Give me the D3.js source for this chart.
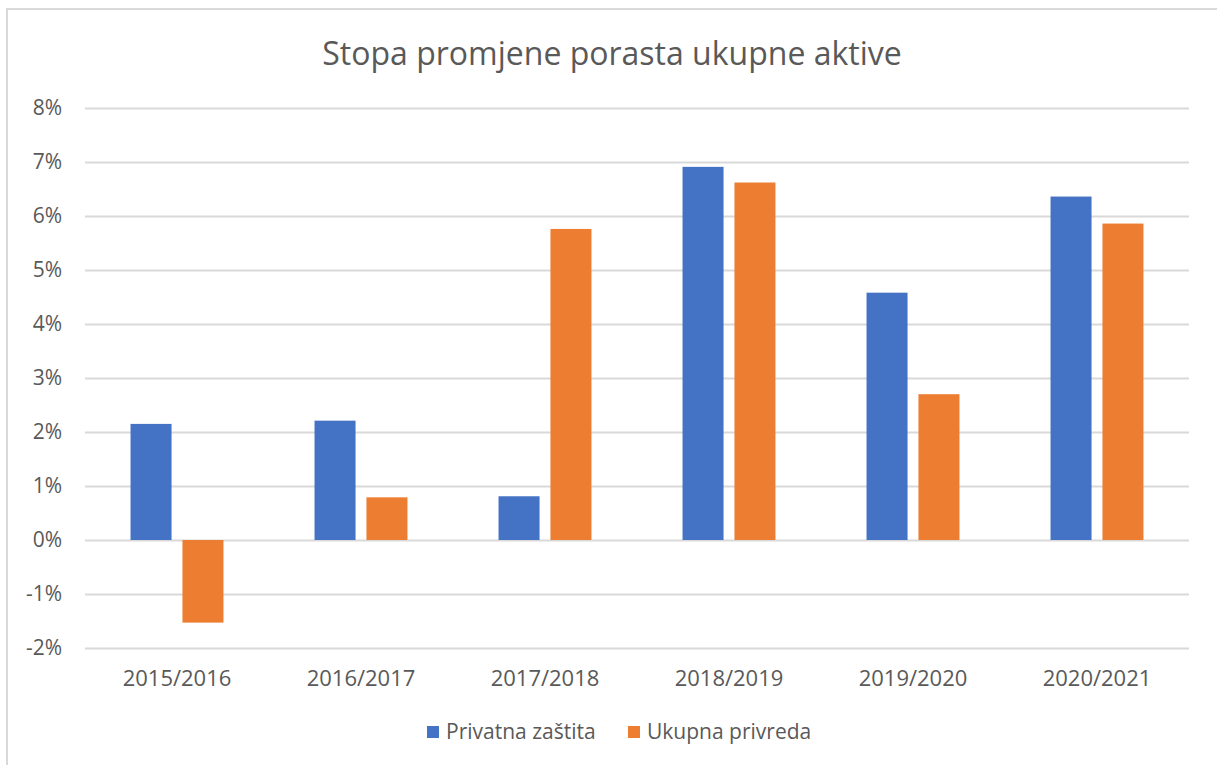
<!DOCTYPE html>
<html>
<head>
<meta charset="utf-8">
<script src="https://cdn.jsdelivr.net/npm/d3@7"></script>
<style>
  html, body { margin: 0; padding: 0; background: #fff; }
  svg text { font-family: "Open Sans", "Noto Sans", sans-serif; fill: #595959; }
</style>
</head>
<body>
<svg id="chart" width="1217" height="765"></svg>
<script>
const title = "Stopa promjene porasta ukupne aktive";
const categories = ["2015/2016", "2016/2017", "2017/2018", "2018/2019", "2019/2020", "2020/2021"];
const seriesNames = ["Privatna zaštita", "Ukupna privreda"];
const privatnaZastita = [2.15, 2.21, 0.81, 6.91, 4.58, 6.36];
const ukupnaPrivreda = [-1.53, 0.79, 5.76, 6.62, 2.70, 5.86];
const colors = ["#4472c4", "#ed7d31"];
const yTicks = [-2, -1, 0, 1, 2, 3, 4, 5, 6, 7, 8];

const seriesValues = [privatnaZastita, ukupnaPrivreda];
const svg = d3.select("#chart");

// chart border (top & left visible)
svg.append("rect").attr("x", 7).attr("y", 9).attr("width", 1240).attr("height", 800)
  .attr("fill", "none").attr("stroke", "#d9d9d9").attr("stroke-width", 2);

const plotLeft = 85, plotRight = 1189, plotTop = 108, plotBottom = 648;

const y = d3.scaleLinear().domain([-2, 8]).range([plotBottom, plotTop]);
const x0 = d3.scaleBand().domain(categories).range([plotLeft, plotRight])
  .paddingInner(0.495).paddingOuter(0.2475);
const x1 = d3.scaleBand().domain(seriesNames).range([0, x0.bandwidth()])
  .paddingInner(0.21).paddingOuter(0);

// gridlines
const yAxis = d3.axisLeft(y).tickValues(yTicks).tickSize(-(plotRight - plotLeft))
  .tickFormat(d => d + "%").tickPadding(23);
const gy = svg.append("g").attr("transform", `translate(${plotLeft},0)`).call(yAxis);
gy.select(".domain").remove();
gy.selectAll(".tick line").attr("stroke", "#d9d9d9").attr("stroke-width", 2);
gy.selectAll(".tick text").style("font-size", "21px").style("fill", "#595959");

// bars
const groups = svg.append("g").selectAll("g").data(categories).join("g")
  .attr("transform", d => `translate(${x0(d)},0)`);
groups.selectAll("rect")
  .data((c, i) => seriesNames.map((s, j) => ({ s, v: seriesValues[j][i], j })))
  .join("rect")
  .attr("x", d => x1(d.s))
  .attr("width", x1.bandwidth())
  .attr("y", d => y(Math.max(0, d.v)))
  .attr("height", d => Math.abs(y(d.v) - y(0)))
  .attr("fill", d => colors[d.j]);

// category axis
const xAxis = d3.axisBottom(x0).tickSize(0).tickPadding(0);
const gx = svg.append("g").attr("transform", `translate(0,${plotBottom + 22})`).call(xAxis);
gx.select(".domain").remove();
gx.selectAll(".tick text").style("font-size", "22px").style("fill", "#595959")
  .attr("dy", "0.71em");

// title
svg.append("text").attr("x", 612).attr("y", 65).attr("text-anchor", "middle")
  .style("font-size", "32px").text(title);

// legend
const legendX = [427, 628];
const lg = svg.append("g");
seriesNames.forEach((s, i) => {
  lg.append("rect").attr("x", legendX[i]).attr("y", 726).attr("width", 12).attr("height", 12)
    .attr("fill", colors[i]);
  lg.append("text").attr("x", legendX[i] + 19).attr("y", 739)
    .style("font-size", "21px").text(s);
});
</script>
</body>
</html>
